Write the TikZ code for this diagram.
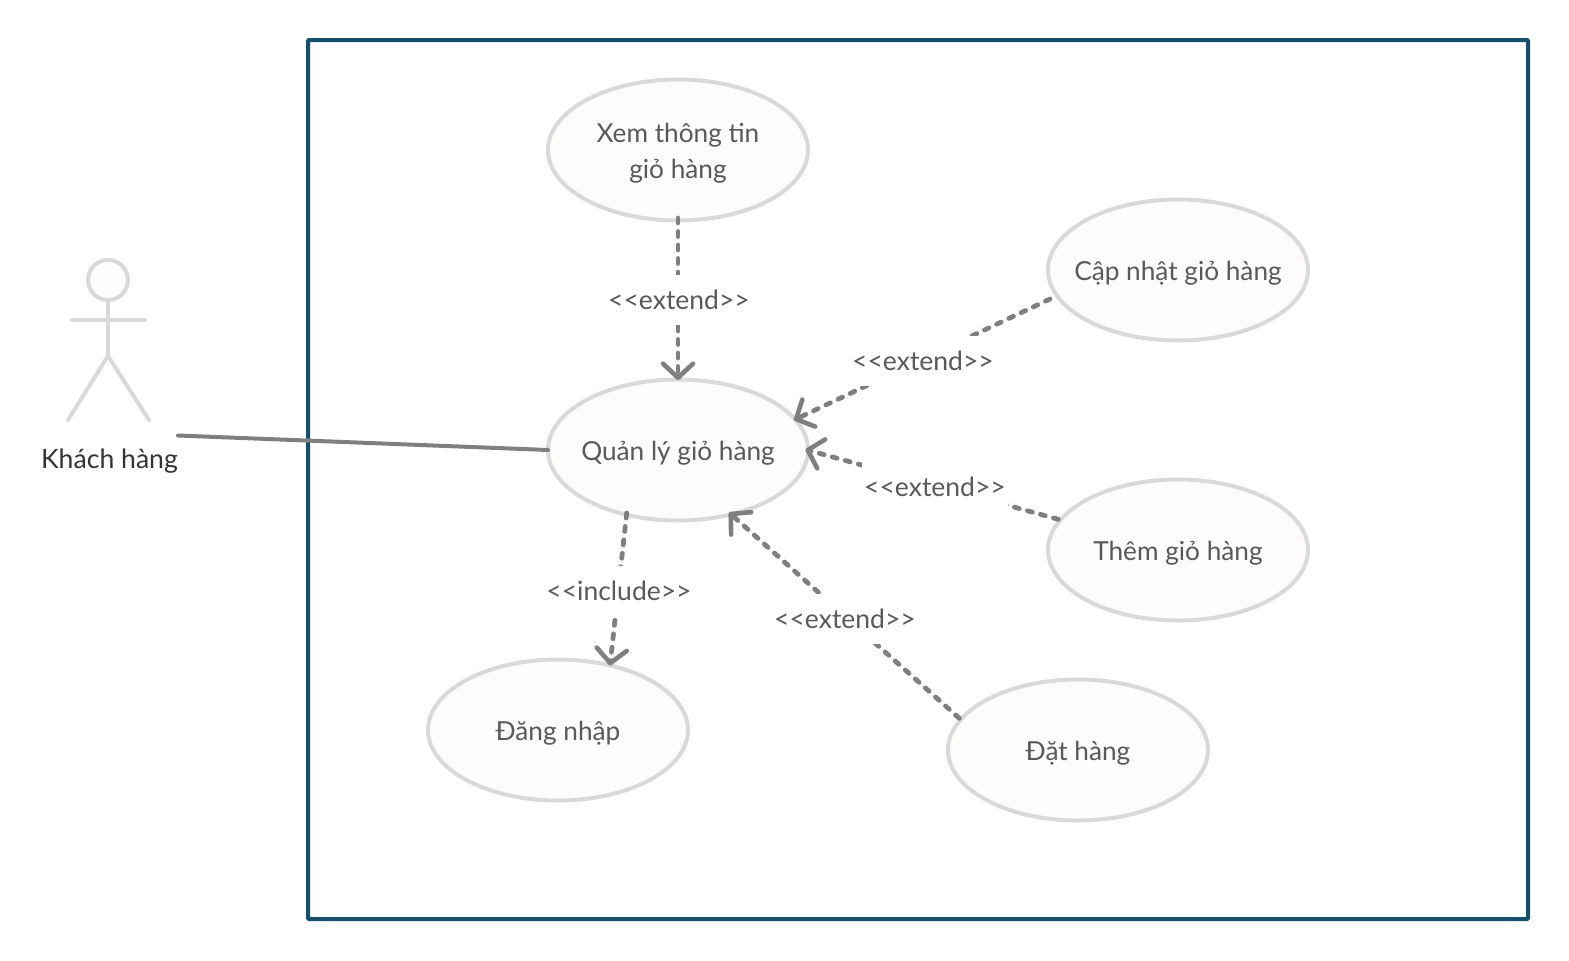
\documentclass[tikz,border=0pt]{standalone}
\usepackage{fontspec}
\setmainfont{Lato}
\usetikzlibrary{shapes.geometric,arrows.meta}
\definecolor{usecasefill}{HTML}{FDFCFB}
\definecolor{usecaseline}{HTML}{D9D9D9}
\definecolor{conn}{HTML}{7F7F7F}
\definecolor{frameblue}{HTML}{14506E}
\definecolor{txt}{HTML}{595959}
\newcommand{\uctext}[1]{\raisebox{-19pt}{\smash{\makebox[0pt]{\begin{tabular}{@{}c@{}}#1\end{tabular}}}}}
\tikzset{
  usecase/.style={ellipse,draw=usecaseline,fill=usecasefill,line width=4pt,minimum width=260pt,minimum height=141pt,inner sep=0pt,outer sep=0pt,text=txt,font=\fontsize{26.2}{36}\selectfont},
  lbl/.style={fill=white,text=txt,font=\fontsize{26.5}{30}\selectfont,inner sep=0pt,minimum height=50pt,minimum width=146pt},
  dep/.style={draw=conn,line width=4.8pt,line cap=round,dash pattern=on 5pt off 8.5pt,-{Straight Barb[length=14pt,width=30pt,line width=4.6pt,round]}},
  assoc/.style={draw=conn,line width=4pt,line cap=round},
  limb/.style={draw=usecaseline,line width=4pt,line cap=round},
}
\begin{document}
\begin{tikzpicture}[x=1pt,y=-1pt]
\useasboundingbox (0,0) rectangle (1569,961);
\node[draw=frameblue,line width=4pt,minimum width=1220pt,minimum height=879pt,inner sep=0pt,outer sep=0pt,rounded corners=1pt] (system) at (918,479.5) {};
% actor
\node[circle,draw=usecaseline,fill=usecasefill,line width=4pt,minimum size=40pt,inner sep=0pt,outer sep=0pt] (head) at (108,280) {};
\coordinate (hip) at (108,356);
\coordinate (armL) at (72,320);
\coordinate (armR) at (145,320);
\coordinate (legL) at (68,420);
\coordinate (legR) at (149,420);
\draw[limb] (head.south) -- (hip);
\draw[limb] (armL) -- (armR);
\draw[limb] (legL) -- (hip) -- (legR);
\node[text=black!80,font=\fontsize{26.6}{32}\selectfont,inner sep=0pt] (actor) at (109.5,461) {Khách hàng};
\coordinate (actorend) at (178,435.5);
% use cases
\node[usecase] (xem) at (678,150) {\uctext{Xem thông tin\\giỏ hàng}};
\node[usecase] (quanly) at (678,450) {\uctext{Quản lý giỏ hàng}};
\node[usecase] (capnhat) at (1178,270) {\uctext{Cập nhật giỏ hàng}};
\node[usecase] (them) at (1178,550) {\uctext{Thêm giỏ hàng}};
\node[usecase] (dangnhap) at (558,730) {\uctext{Đăng nhập}};
\node[usecase] (dathang) at (1078,750) {\uctext{Đặt hàng}};
% connector ends
\coordinate (xemS) at (678,218);
\coordinate (qlN) at (678,380);
\coordinate (capS) at (1050,299);
\coordinate (qlNE) at (794,420);
\coordinate (themS) at (1058.3,519.3);
\coordinate (qlE) at (805.5,449.5);
\coordinate (datS) at (959.3,718.3);
\coordinate (qlSE) at (729,512.5);
\coordinate (qlSW) at (626.7,513);
\coordinate (dnN) at (610,665.5);
% connectors
\draw[assoc] (actorend) -- (quanly.west);
\draw[dep] (xemS) -- (qlN);
\draw[dep] (capS) -- (qlNE);
\draw[dep] (themS) -- (qlE);
\draw[dep] (datS) -- (qlSE);
\draw[dep] (qlSW) -- (dnN);
% labels
\node[lbl] (l1) at (679,300) {<{}<extend>{}>};
\node[lbl] (l2) at (923,361) {<{}<extend>{}>};
\node[lbl] (l3) at (935,487) {<{}<extend>{}>};
\node[lbl] (l4) at (845,619) {<{}<extend>{}>};
\node[lbl] (l5) at (619,591) {<{}<include>{}>};
\end{tikzpicture}
\end{document}
